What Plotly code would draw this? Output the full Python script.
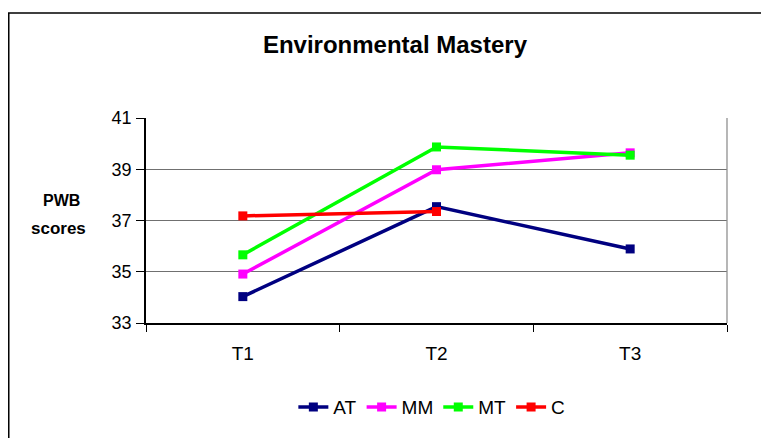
import plotly.graph_objects as go

# datos
tiempos = ["T1", "T2", "T3"]
at_vals = [34.03, 37.54, 35.89]
mm_vals = [34.91, 38.98, 39.64]
mt_vals = [35.66, 39.87, 39.55]
c_vals = [37.18, 37.35, None]
y_ticks = [33, 35, 37, 39, 41]

series = [
    ("AT", at_vals, "#000080"),
    ("MM", mm_vals, "#FF00FF"),
    ("MT", mt_vals, "#00FF00"),
    ("C", c_vals, "#FF0000"),
]

FONT = "Liberation Sans, Arial, sans-serif"

fig = go.Figure()
for nombre, vals, color in series:
    fig.add_trace(go.Scatter(
        x=tiempos, y=vals, name=nombre, mode="lines+markers",
        line=dict(color=color, width=3.5),
        marker=dict(symbol="square", size=9, color=color),
        connectgaps=False,
    ))

# la pagina tiene 8px de margen en el body, por eso el lienzo es algo menor
fig.update_layout(
    width=761, height=430,
    margin=dict(l=138, r=42, t=110, b=113),
    plot_bgcolor="white", paper_bgcolor="white",
    font=dict(family=FONT, size=18, color="black"),
    title=dict(text="<b>Environmental Mastery</b>", x=0.5085, xanchor="center",
               y=0.916, yanchor="middle", font=dict(size=24)),
    showlegend=True,
    legend=dict(orientation="h", x=0.492, xanchor="center", y=-0.41, yanchor="middle",
                font=dict(size=19), tracegroupgap=0),
)

fig.update_xaxes(
    type="category", range=[-0.5, 2.5], tickson="boundaries",
    showline=True, linecolor="black", linewidth=1.5,
    ticks="outside", ticklen=7, tickcolor="black",
    tickfont=dict(size=19),
    showgrid=False, zeroline=False, ticklabelstandoff=12,
)
fig.update_yaxes(
    range=[33, 41], tickvals=y_ticks,
    showline=True, linecolor="black", linewidth=1.5,
    ticks="outside", ticklen=8, tickcolor="black",
    showgrid=True, gridcolor="#707070", gridwidth=1.3, zeroline=False,
    ticklabelstandoff=1,
)

# borde derecho gris del area de trazado
fig.add_shape(type="line", xref="paper", yref="paper", x0=1, x1=1, y0=0, y1=1,
              line=dict(color="#909090", width=1.3))
# marco exterior del grafico
fig.add_shape(type="rect", xref="paper", yref="paper",
              x0=-0.2362, x1=1.2, y0=-0.6, y1=1.512,
              line=dict(color="black", width=1.5), layer="below")

fig.add_annotation(text="<b>PWB</b>", xref="paper", yref="paper", xanchor="center",
                   x=-0.145, y=0.598, showarrow=False, font=dict(size=16))
fig.add_annotation(text="<b>scores</b>", xref="paper", yref="paper", xanchor="center",
                   x=-0.151, y=0.460, showarrow=False, font=dict(size=17))

fig.write_html("out.html")
